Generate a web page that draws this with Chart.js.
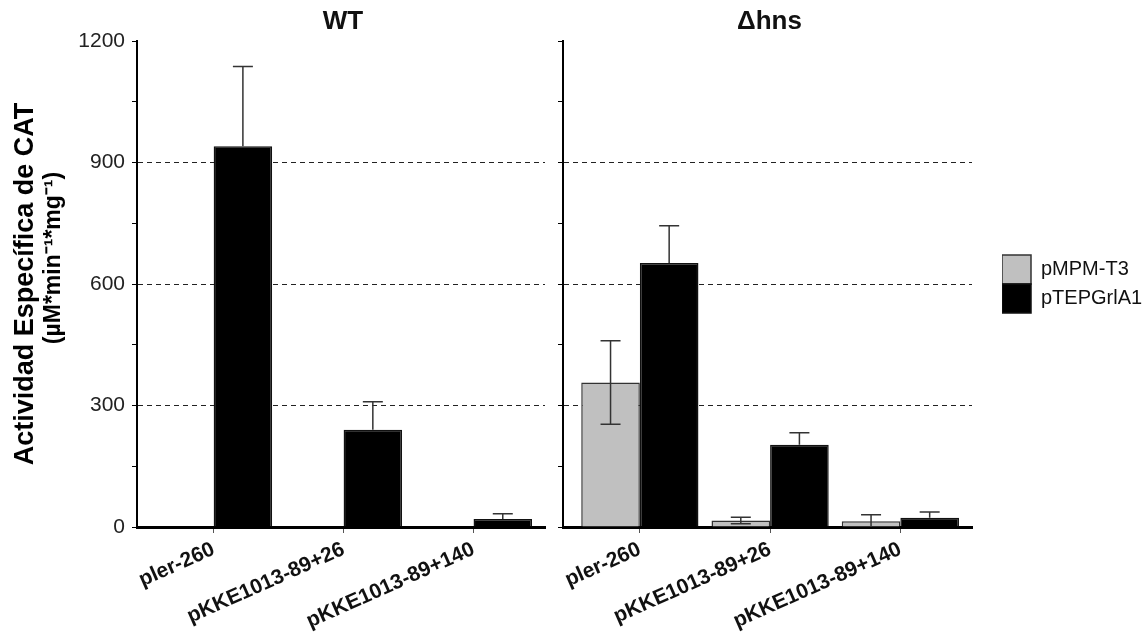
<!DOCTYPE html>
<html>
<head>
<meta charset="utf-8">
<script src="https://cdn.jsdelivr.net/npm/chart.js@4.4.1/dist/chart.umd.min.js"></script>
<style>
  html, body { margin: 0; padding: 0; background: #fff; overflow: hidden; }
  #wrap { position: relative; width: 1148px; height: 636px; }
  canvas { position: absolute; top: 0; }
  #chartWT { left: 0; }
  #chartHns { left: 272px; }
</style>
</head>
<body>
<div id="wrap">
  <canvas id="chartWT" width="555" height="636"></canvas>
  <canvas id="chartHns" width="876" height="636"></canvas>
</div>
<script>
const categories = ['pler-260', 'pKKE1013-89+26', 'pKKE1013-89+140'];
const seriesNames = ['pMPM-T3', 'pTEPGrlA1'];

// WT panel
const wtMPM = [0, 0, 0];
const wtMPMErr = [0, 0, 0];
const wtTEP = [940, 240, 20];
const wtTEPErr = [197, 69, 13];

// Δhns panel
const hnsMPM = [357, 16, 14];
const hnsMPMErr = [103, 8, 16];
const hnsTEP = [652, 203, 23];
const hnsTEPErr = [92, 30, 14];

const yLabelTicks = [0, 300, 600, 900, 1200];
const yGridLines = [300, 600, 900];
const yTitle = 'Actividad Específica de CAT';
const yUnits = '(µM*min⁻¹*mg⁻¹)';

const FONT = "'Liberation Sans', Arial, sans-serif";
Chart.defaults.font.family = FONT;

// barres d'erreur dessinées au-dessus des barres
const errorBars = {
    id: 'errorBars',
    afterDatasetsDraw(chart) {
        const ctx = chart.ctx;
        const y = chart.scales.y;
        chart.data.datasets.forEach((ds, i) => {
            if (!ds.errors) return;
            chart.getDatasetMeta(i).data.forEach((bar, j) => {
                const v = ds.data[j].y, e = ds.errors[j];
                if (!e) return;
                const top = y.getPixelForValue(v + e);
                const bot = ds.errorDown ? y.getPixelForValue(Math.max(0, v - e)) : y.getPixelForValue(v);
                ctx.save();
                ctx.strokeStyle = '#333';
                ctx.lineWidth = 1.5;
                ctx.beginPath();
                ctx.moveTo(bar.x, top); ctx.lineTo(bar.x, bot);
                ctx.moveTo(bar.x - 10, top); ctx.lineTo(bar.x + 10, top);
                if (ds.errorDown && v - e > 0) { ctx.moveTo(bar.x - 10, bot); ctx.lineTo(bar.x + 10, bot); }
                ctx.stroke();
                ctx.restore();
            });
        });
    }
};

const panelTitle = {
    id: 'panelTitle',
    afterDraw(chart, args, opts) {
        const { ctx, chartArea } = chart;
        ctx.save();
        ctx.font = 'bold 26px ' + FONT;
        ctx.fillStyle = '#111';
        ctx.textAlign = 'center';
        ctx.textBaseline = 'middle';
        ctx.fillText(opts.text, (chartArea.left + chartArea.right) / 2 + 2, 22);
        ctx.restore();
    }
};

const yTitleLines = {
    id: 'yTitleLines',
    afterDraw(chart, args, opts) {
        if (!opts.show) return;
        const { ctx, chartArea } = chart;
        const cy = (chartArea.top + chartArea.bottom) / 2;
        ctx.save();
        ctx.fillStyle = '#000';
        ctx.textAlign = 'center';
        ctx.textBaseline = 'middle';
        ctx.translate(26, cy);
        ctx.rotate(-Math.PI / 2);
        ctx.font = 'bold 27px ' + FONT;
        ctx.fillText(yTitle, 0, 0);
        ctx.font = 'bold 23px ' + FONT;
        ctx.fillText(yUnits, 26, 28);
        ctx.restore();
    }
};

function toPoints(vals) {
    return vals.map((v, i) => ({ x: i + 1, y: v }));
}

function makePanel(id, title, mpm, mpmErr, tep, tepErr, isLeft) {
    const scales = {
        x: {
            type: 'linear', min: 0.41, max: 3.55, offset: false,
            grid: { display: true, offset: false, drawOnChartArea: false, drawTicks: true, tickLength: 6, tickColor: '#555', tickWidth: 1 },
            border: { display: true, color: '#000', width: 3 },
            ticks: {
                stepSize: 1, includeBounds: false, autoSkip: false,
                minRotation: 24, maxRotation: 24, padding: 4,
                color: '#111', font: { size: 21, weight: 'bold' },
                callback: v => categories[v - 1] || ''
            },
            afterFit: s => { s.height = 109; }
        },
        y: {
            min: 0, max: 1200,
            ticks: {
                display: isLeft, stepSize: 150, padding: 7, color: '#222', font: { size: 21 },
                callback: v => yLabelTicks.includes(v) ? v : ''
            },
            grid: {
                color: c => (c.tick && yGridLines.includes(c.tick.value)) ? '#222' : 'rgba(0,0,0,0)',
                lineWidth: 1, tickColor: '#000', tickLength: 5, drawTicks: true
            },
            border: { display: true, color: '#000', width: 2, dash: [5, 4] },
            afterFit: s => { s.width = isLeft ? 137 : 291; }
        }
    };
    if (!isLeft) {
        // espace vide entre le graphique et la légende
        scales.gap = {
            type: 'linear', position: 'right', display: true,
            grid: { display: false, drawTicks: false },
            border: { display: false },
            ticks: { display: false },
            afterFit: s => { s.width = 30; }
        };
    }

    return new Chart(document.getElementById(id), {
        type: 'bar',
        data: {
            datasets: [
                {
                    label: seriesNames[0], data: toPoints(mpm), errors: mpmErr, errorDown: true,
                    backgroundColor: '#c0c0c0', borderColor: '#333', borderWidth: 1.5,
                    categoryPercentage: 0.9, barPercentage: 1
                },
                {
                    label: seriesNames[1], data: toPoints(tep), errors: tepErr, errorDown: false,
                    backgroundColor: '#000', borderColor: '#111', borderWidth: 1.5,
                    categoryPercentage: 0.9, barPercentage: 1
                }
            ]
        },
        options: {
            responsive: false,
            animation: false,
            events: [],
            layout: { padding: { top: 41, left: 0, right: isLeft ? 10 : 0, bottom: 0 } },
            scales,
            plugins: {
                legend: {
                    display: !isLeft, position: 'right', fullSize: false,
                    labels: { boxWidth: 29, boxHeight: 29, padding: 0, color: '#111', font: { size: 20 } }
                },
                tooltip: { enabled: false },
                panelTitle: { text: title },
                yTitleLines: { show: isLeft }
            }
        },
        plugins: [errorBars, panelTitle, yTitleLines]
    });
}

makePanel('chartWT', 'WT', wtMPM, wtMPMErr, wtTEP, wtTEPErr, true);
makePanel('chartHns', 'Δhns', hnsMPM, hnsMPMErr, hnsTEP, hnsTEPErr, false);
</script>
</body>
</html>
